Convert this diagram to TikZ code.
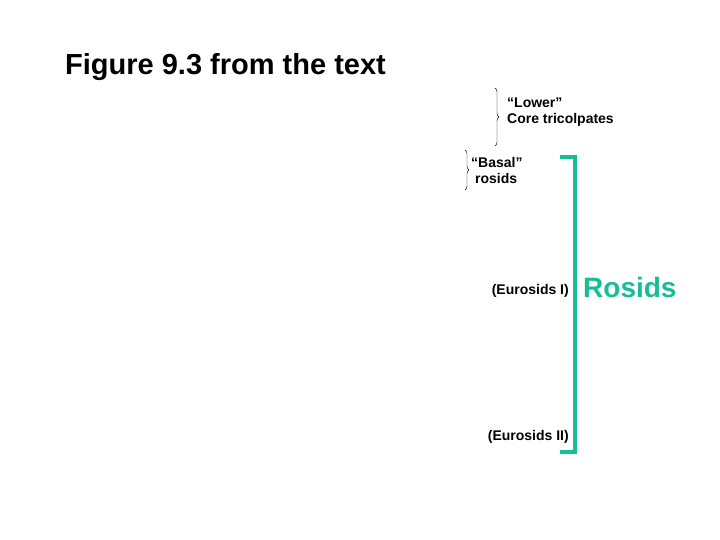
\documentclass[tikz,border=0pt]{standalone}
\usepackage{fontspec}
\setmainfont{Liberation Sans}
\usetikzlibrary{decorations.pathreplacing}
\definecolor{rosid}{RGB}{22,190,150}
\begin{document}
\begin{tikzpicture}[x=1pt,y=-1pt,
  lab/.style={font=\bfseries\fontsize{14}{16}\selectfont, inner sep=0pt, align=left},
  br/.style={decorate, decoration={brace, amplitude=4pt}, thin}]
\useasboundingbox (0,0) rectangle (720,540);
\node[anchor=west, font=\bfseries\fontsize{29}{32}\selectfont, inner sep=0pt] (title) at (65,67) {Figure 9.3 from the text};
\coordinate (lt) at (495,88); \coordinate (lb) at (495,146);
\draw[br] (lt) -- (lb);
\node[lab, anchor=west] (lower) at (507,112) {“Lower”\\Core tricolpates};
\coordinate (bt) at (465,150); \coordinate (bb) at (465,190);
\draw[br] (bt) -- (bb);
\node[lab, anchor=west] (basal) at (471,170) {“Basal”\\\ rosids};
\coordinate (r1) at (560,157); \coordinate (r2) at (575,157);
\coordinate (r3) at (575,452); \coordinate (r4) at (560,452);
\draw[rosid, line width=4pt, line join=miter] (r1) -- (r2) -- (r3) -- (r4);
\node[lab, anchor=east] (eu1) at (569,291) {(Eurosids I)};
\node[lab, anchor=east] (eu2) at (569,437) {(Eurosids II)};
\node[anchor=west, inner sep=0pt, text=rosid, font=\bfseries\fontsize{28}{30}\selectfont] (ros) at (583,287) {Rosids};
\end{tikzpicture}
\end{document}
